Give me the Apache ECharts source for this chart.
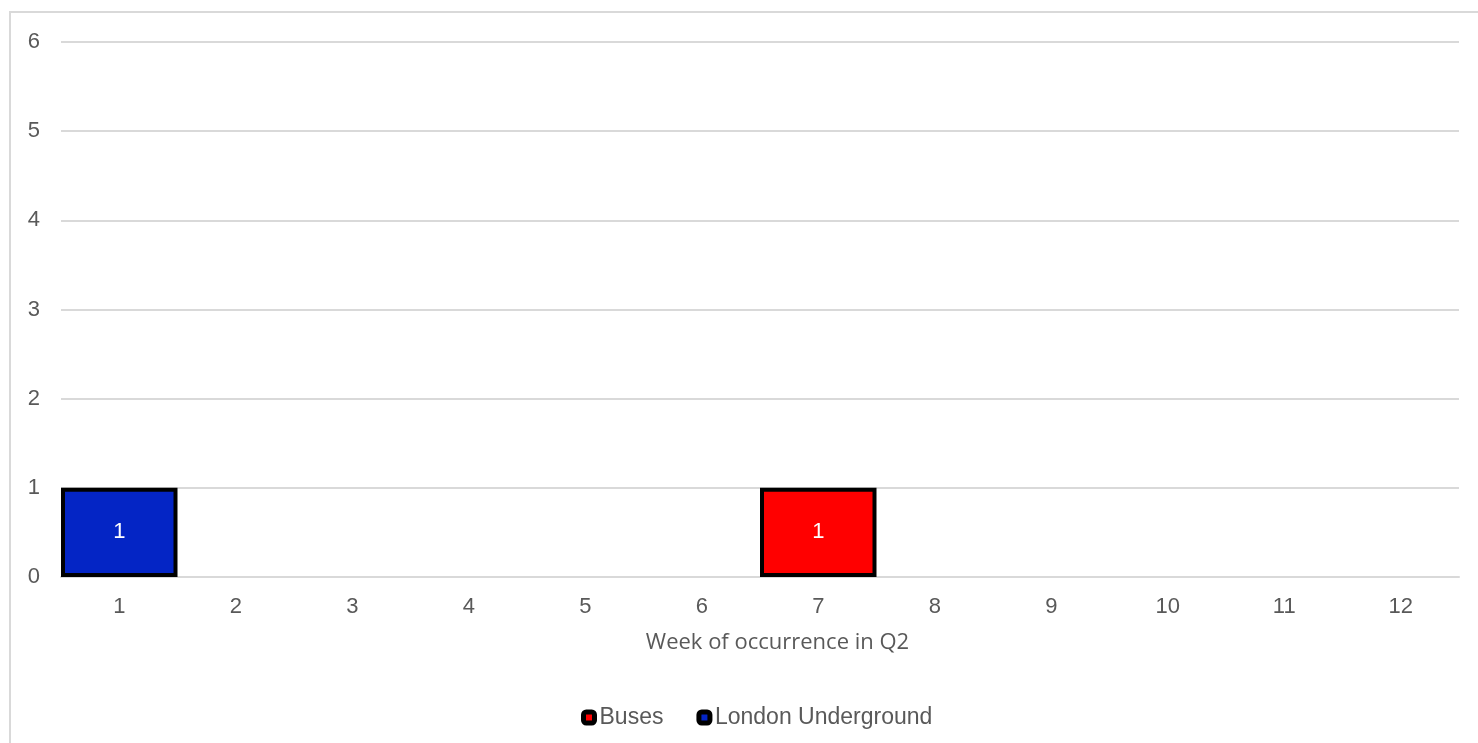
<!DOCTYPE html>
<html>
<head>
<meta charset="utf-8">
<title>Week of occurrence in Q2</title>
<script src="https://cdn.jsdelivr.net/npm/echarts@6/dist/echarts.min.js"></script>
<style>
  html, body { margin: 0; padding: 0; background: #ffffff; }
  #chart { width: 1478px; height: 743px; }
</style>
</head>
<body>
<div id="chart"></div>
<script>
// Weeks of the quarter and incident counts per mode
const weeks = ['1', '2', '3', '4', '5', '6', '7', '8', '9', '10', '11', '12'];
const busesCounts = [0, 0, 0, 0, 0, 0, 1, 0, 0, 0, 0, 0];
const undergroundCounts = [1, 0, 0, 0, 0, 0, 0, 0, 0, 0, 0, 0];
const yTicks = { min: 0, max: 6, interval: 1 };

const TEXT = '#595959';
const GRID_LINE = '#d9d9d9';

// Empty weeks carry no bar at all, so no outline shows on the axis
const toBars = arr => arr.map(v => (v === 0 ? null : v));

const chart = echarts.init(document.getElementById('chart'), null, { renderer: 'canvas' });

const barSeries = (name, color, values) => ({
  name: name,
  type: 'bar',
  stack: 'total',
  barWidth: '100%',
  data: toBars(values),
  itemStyle: { color: color, borderColor: '#000000', borderWidth: 4 },
  label: {
    show: true,
    position: 'inside',
    color: '#ffffff',
    fontFamily: 'Liberation Sans, Arial, sans-serif',
    fontSize: 22
  }
});

// Legend markers: a heavy black frame around a small swatch of the series colour
const legendItem = name => ({
  name: name,
  icon: 'roundRect',
  itemStyle: { borderColor: '#000000', borderWidth: 5 }
});

chart.setOption({
  animation: false,
  backgroundColor: '#ffffff',
  graphic: [{
    type: 'rect',
    shape: { x: 10, y: 12, width: 1480, height: 760 },
    style: { fill: 'none', stroke: GRID_LINE, lineWidth: 2 },
    silent: true,
    z: -1
  }],
  grid: { left: 61, right: 19, top: 42, bottom: 166 },
  legend: {
    left: 576,
    top: 701,
    itemWidth: 11,
    itemHeight: 11,
    itemGap: 33,
    textStyle: { color: TEXT, fontFamily: 'Liberation Sans, Arial, sans-serif', fontSize: 23 },
    data: [legendItem('Buses'), legendItem('London Underground')]
  },
  xAxis: {
    type: 'category',
    data: weeks,
    name: 'Week of occurrence in Q2',
    nameLocation: 'middle',
    nameGap: 55,
    nameTextStyle: {
      color: TEXT,
      fontFamily: 'Open Sans, sans-serif',
      fontSize: 22,
      padding: [0, 0, 0, 35]
    },
    axisLine: { show: true, lineStyle: { color: GRID_LINE, width: 2 } },
    axisTick: { show: false },
    axisLabel: {
      color: TEXT,
      fontFamily: 'Liberation Sans, Arial, sans-serif',
      fontSize: 22,
      margin: 19
    }
  },
  yAxis: {
    type: 'value',
    min: yTicks.min,
    max: yTicks.max,
    interval: yTicks.interval,
    axisLine: { show: false },
    axisTick: { show: false },
    splitLine: { lineStyle: { color: GRID_LINE, width: 2 } },
    axisLabel: {
      color: TEXT,
      fontFamily: 'Liberation Sans, Arial, sans-serif',
      fontSize: 22,
      margin: 21
    }
  },
  series: [
    barSeries('Buses', '#ff0000', busesCounts),
    barSeries('London Underground', '#0425c5', undergroundCounts)
  ]
});
</script>
</body>
</html>
